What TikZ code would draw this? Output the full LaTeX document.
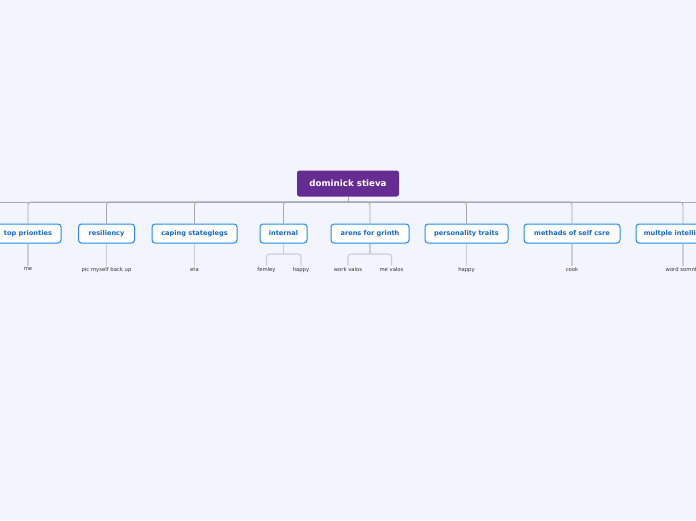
\documentclass[tikz,border=0pt]{standalone}
\usepackage{fontspec}
\setmainfont{DejaVu Sans}
\begin{document}
\begin{tikzpicture}[x=1pt,y=-1pt,
  rootbox/.style={draw=none,fill=rootpurple,rounded corners=2.5pt,minimum width=102pt,minimum height=26pt,
    text=white,font=\fontsize{8.7}{9}\selectfont\bfseries,inner sep=0pt},
  childbox/.style={draw=boxblue,line width=1pt,fill=white,rounded corners=3pt,minimum height=19pt,
    text=textblue,font=\fontsize{6.6}{7}\selectfont\bfseries,inner sep=0pt},
  leaf/.style={text=leaftext,font=\fontsize{5.3}{6}\selectfont,inner sep=2pt},
  mainline/.style={draw=linegray,line width=0.9pt,rounded corners=3pt},
  subline/.style={draw=sublinegray,line width=1.1pt,rounded corners=3pt}]
\definecolor{bg}{RGB}{242,245,254}
\definecolor{rootpurple}{RGB}{102,44,145}
\definecolor{boxblue}{RGB}{38,138,234}
\definecolor{textblue}{RGB}{22,104,200}
\definecolor{leaftext}{RGB}{50,50,50}
\definecolor{linegray}{RGB}{170,170,172}
\definecolor{sublinegray}{RGB}{204,206,212}
\useasboundingbox (0,0) rectangle (696,520);
\clip (0,0) rectangle (696,520);
\fill[bg] (0,0) rectangle (696,520);

\node[rootbox] (root) at (348,183.5) {dominick stieva};

\node[childbox,minimum width=66pt] (c1) at (28,233.5) {top prionties};
\node[childbox,minimum width=56pt] (c2) at (106.5,233.5) {resiliency};
\node[childbox,minimum width=85pt] (c3) at (194.5,233.5) {caping stateglegs};
\node[childbox,minimum width=47pt] (c4) at (283.5,233.5) {internal};
\node[childbox,minimum width=78pt] (c5) at (370,233.5) {arens for grinth};
\node[childbox,minimum width=83pt] (c6) at (466.5,233.5) {personality traits};
\node[childbox,minimum width=96pt] (c7) at (572,233.5) {methads of self csre};
\node[childbox,minimum width=94pt] (c8) at (683,233.5) {multple intelligences};

\coordinate (hub) at (348,202);
\coordinate (hl) at (0,202);
\coordinate (hr) at (696,202);
\draw[mainline] (root.south) -- (hub);
\draw[mainline,rounded corners=0pt] (hl) -- (hr);
\foreach \c in {c1,c2,c3,c4,c5,c6,c7,c8}{
  \draw[mainline] (hub) -| (\c.north);
}

\node[leaf,anchor=north] (g1) at (28,265.5) {me};
\node[leaf,anchor=north] (g2) at (106.5,265.5) {pic myself back up};
\node[leaf,anchor=north] (g3) at (194.5,265.5) {eta};
\node[leaf,anchor=north] (g4a) at (266.5,265.5) {femley};
\node[leaf,anchor=north] (g4b) at (301,265.5) {happy};
\node[leaf,anchor=north] (g5a) at (348,265.5) {work valos};
\node[leaf,anchor=north] (g5b) at (391.5,265.5) {me valos};
\node[leaf,anchor=north] (g6) at (466.5,265.5) {happy};
\node[leaf,anchor=north] (g7) at (572,265.5) {cook};
\node[leaf,anchor=north] (g8) at (683,265.5) {word somnth};

\draw[subline] (c1.south) -- (g1.north);
\draw[subline] (c2.south) -- (g2.north);
\draw[subline] (c3.south) -- (g3.north);
\draw[subline] (c6.south) -- (g6.north);
\draw[subline] (c7.south) -- (g7.north);
\draw[subline] (c8.south) -- (g8.north);
\coordinate (j4) at (283.5,254);
\coordinate (j5) at (370,254);
\draw[subline] (c4.south) -- (j4);
\draw[subline] (j4) -| (g4a.north);
\draw[subline] (j4) -| (g4b.north);
\draw[subline] (c5.south) -- (j5);
\draw[subline] (j5) -| (g5a.north);
\draw[subline] (j5) -| (g5b.north);
\end{tikzpicture}
\end{document}
